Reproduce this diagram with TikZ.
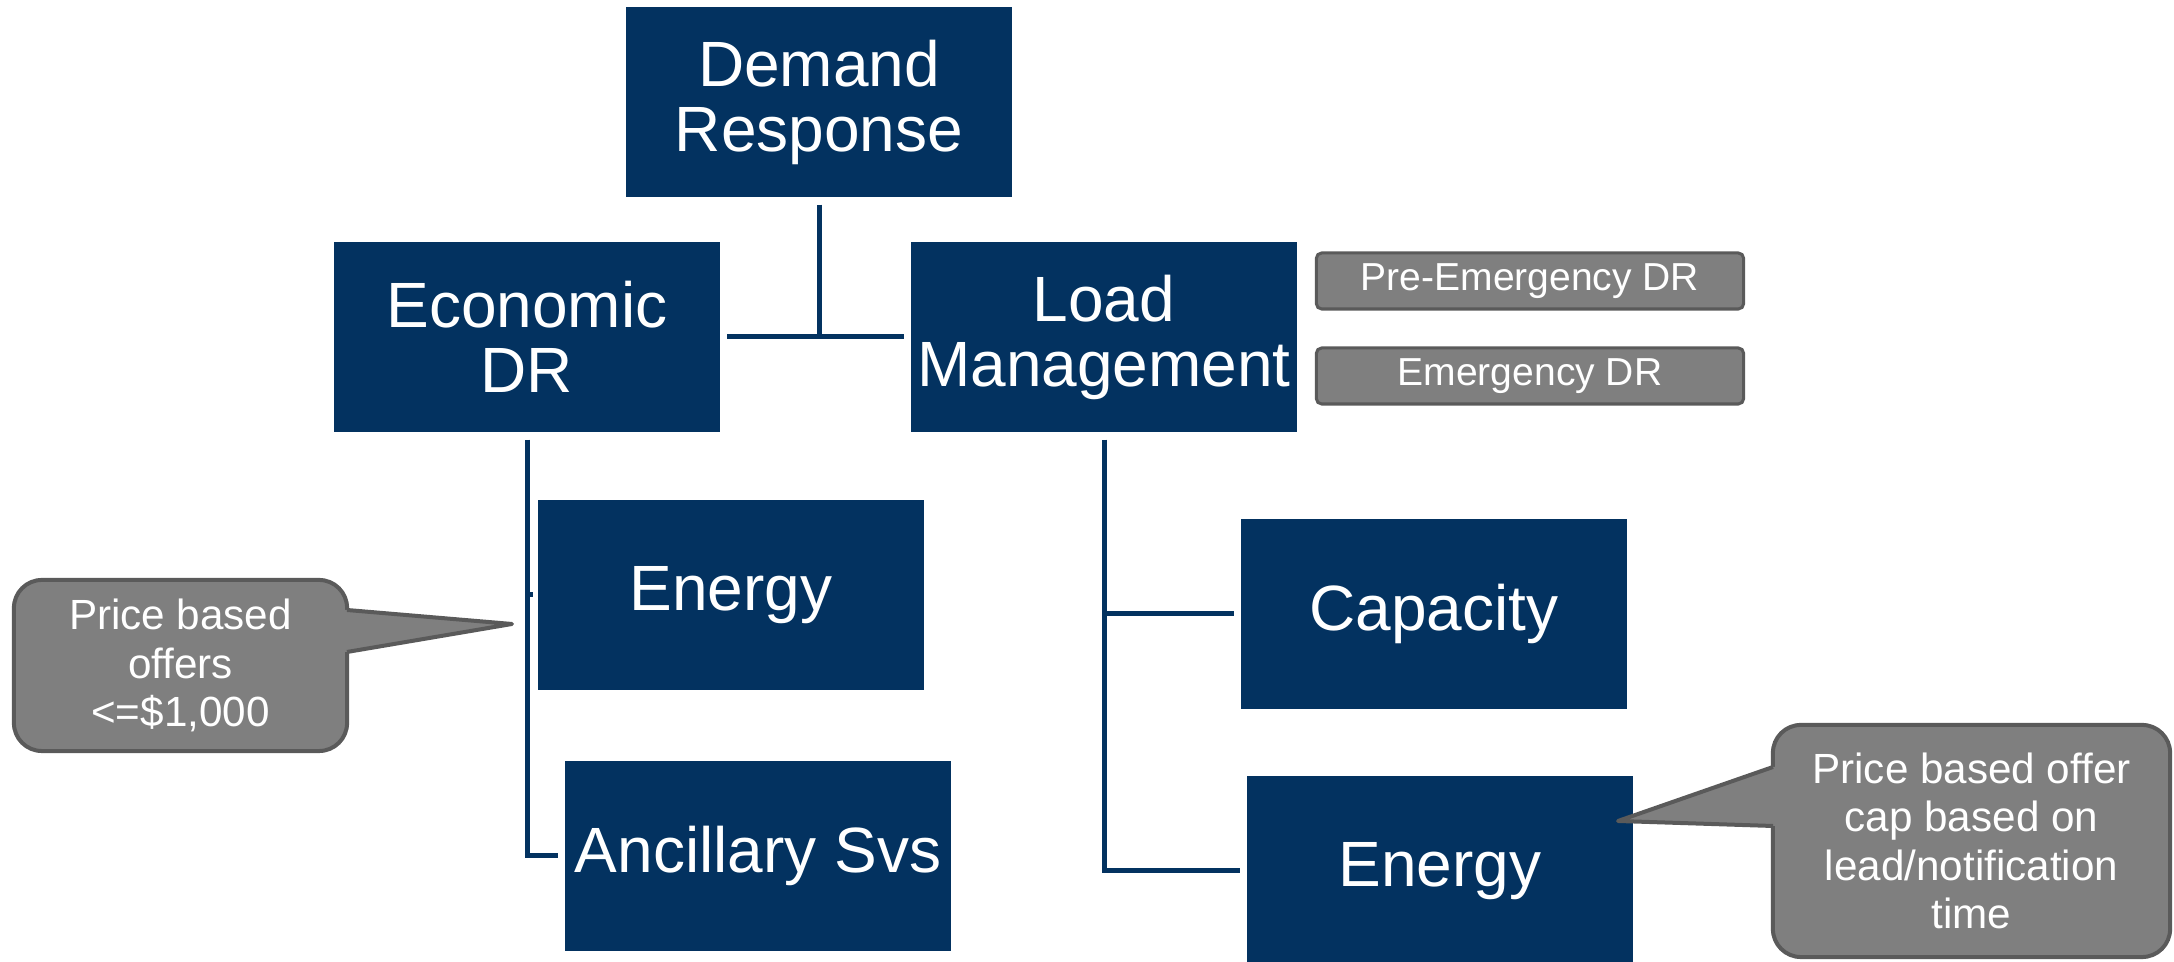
\documentclass[tikz,border=0pt]{standalone}
\usepackage{fontspec}
\setmainfont{Liberation Sans}
\usetikzlibrary{calc}

\definecolor{drNavy}{RGB}{3,50,96}
\definecolor{noteGray}{RGB}{127,127,127}
\definecolor{noteEdge}{RGB}{90,90,90}

\begin{document}
\begin{tikzpicture}[x=0.01cm,y=-0.01cm,
	navy/.style={rectangle,fill=drNavy,text=white,minimum width=3.85cm,minimum height=1.9cm,
		align=center,inner sep=0pt,font=\fontsize{18.2}{18.5}\selectfont},
	tag/.style={rectangle,fill=noteGray,draw=noteEdge,line width=0.03cm,rounded corners=1.5pt,
		text=white,minimum width=4.27cm,minimum height=0.56cm,inner sep=0pt,font=\fontsize{11.1}{12}\selectfont},
	note/.style={rectangle,fill=noteGray,draw=noteEdge,line width=0.04cm,rounded corners=0.28cm,
		text=white,align=center,inner sep=0pt,font=\fontsize{12}{13.7}\selectfont},
	link/.style={draw=drNavy,line width=0.05cm}]
		\newcommand*{\gapA}{0.07cm}

		\useasboundingbox (0,0) rectangle (2174,962);

		% main boxes
		\node[navy] (dr) at (819,102) {Demand\\Response};
		\node[navy] (econ) at (527,337) {Economic\\DR};
		\node[navy] (load) at (1104,337) {Load\\Management};
		\node[navy] (energyL) at (731,595) {Energy};
		\node[navy] (ancil) at (758,856) {Ancillary Svs};
		\node[navy] (capacity) at (1434,614) {Capacity};
		\node[navy] (energyR) at (1440,871) {Energy};

		\node[tag] (pre) at (1530,281) {Pre-Emergency DR};
		\node[tag] (emerg) at (1530,376) {Emergency DR};

		% connectors
		\draw[link] ([yshift=-\gapA]dr.south) -- (dr.south |- econ.east);
		\draw[link] ([xshift=\gapA]econ.east) -- ([xshift=-\gapA]load.west);
		\draw[link] ([yshift=-\gapA]econ.south) |- ([xshift=-\gapA]ancil.west);
		\draw[link] (econ.south |- energyL.west) -- ([xshift=-0.05cm]energyL.west);
		\draw[link] ([yshift=-\gapA]load.south) |- ([xshift=-\gapA]energyR.west);
		\draw[link] (load.south |- capacity.west) -- ([xshift=-\gapA]capacity.west);

		% callouts
		\node[note,minimum width=3.33cm,minimum height=1.71cm] (noteL) at (180.5,665.5)
			{Price based\\offers\\<=\$1,000};
		\coordinate(TipL) at	(512,624);
		\coordinate(BaseLa) at	(347,610);
		\coordinate(BaseLb) at	(347,652);
		\fill[noteGray] ($(BaseLa)+(-5,0)$) -- (BaseLa) -- (TipL) -- (BaseLb) -- ($(BaseLb)+(-5,0)$) -- cycle;
		\draw[noteEdge,line width=0.04cm,line join=round] (BaseLa) -- (TipL) -- (BaseLb);

		\node[note,minimum width=3.97cm,minimum height=2.32cm] (noteR) at (1971.5,841)
			{Price based offer\\cap based on\\lead/notification\\time};
		\coordinate(TipR) at	(1618,821);
		\coordinate(BaseRa) at	(1773,767);
		\coordinate(BaseRb) at	(1773,826);
		\fill[noteGray] ($(BaseRa)+(5,0)$) -- (BaseRa) -- (TipR) -- (BaseRb) -- ($(BaseRb)+(5,0)$) -- cycle;
		\draw[noteEdge,line width=0.04cm,line join=round] (BaseRa) -- (TipR) -- (BaseRb);
\end{tikzpicture}
\end{document}
